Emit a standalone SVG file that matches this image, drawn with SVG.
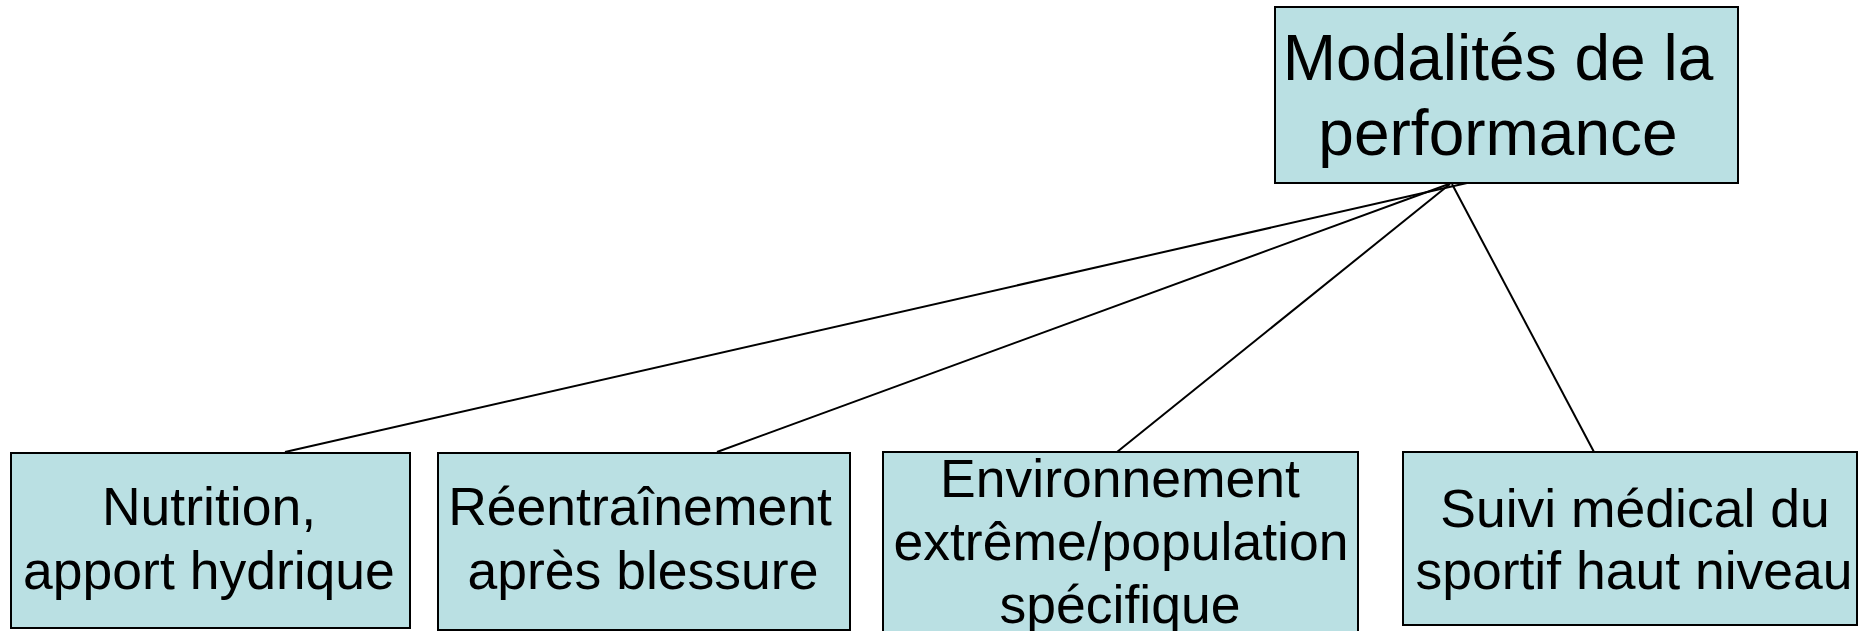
<svg xmlns="http://www.w3.org/2000/svg" width="1858" height="631" viewBox="0 0 1858 631">
<style>
.box{fill:#BAE0E3;stroke:#000;stroke-width:2}
.t{font-family:"Liberation Sans",Arial,sans-serif;fill:#000;text-anchor:middle}
.big{font-size:64px}
.small{font-size:53.5px}
.conn line{stroke:#000;stroke-width:2}
</style>
<rect width="1858" height="631" fill="#fff"/>
<g id="connectors" class="conn">
<line x1="1467" y1="183" x2="285" y2="452"/>
<line x1="1449" y1="184" x2="717" y2="452"/>
<line x1="1450" y1="184" x2="1117" y2="452"/>
<line x1="1452" y1="184" x2="1594" y2="452"/>
</g>
<g id="root">
<rect class="box" x="1275" y="7" width="463" height="176"/>
<text class="t big" x="1498" y="80">Modalités de la</text>
<text class="t big" x="1498" y="155">performance</text>
</g>
<g id="nutrition">
<rect class="box" x="11" y="453" width="399" height="175"/>
<text class="t small" x="209" y="525">Nutrition,</text>
<text class="t small" x="209" y="589">apport hydrique</text>
</g>
<g id="reentrainement">
<rect class="box" x="438" y="453" width="412" height="177"/>
<text class="t small" x="640" y="525">Réentraînement</text>
<text class="t small" x="643" y="589">après blessure</text>
</g>
<g id="environnement">
<rect class="box" x="883" y="452" width="475" height="182"/>
<text class="t small" x="1120" y="497">Environnement</text>
<text class="t small" x="1121" y="560">extrême/population</text>
<text class="t small" x="1120" y="623">spécifique</text>
</g>
<g id="suivi">
<rect class="box" x="1403" y="452" width="454" height="173"/>
<text class="t small" x="1635" y="527">Suivi médical du</text>
<text class="t small" x="1634" y="589">sportif haut niveau</text>
</g>
</svg>
